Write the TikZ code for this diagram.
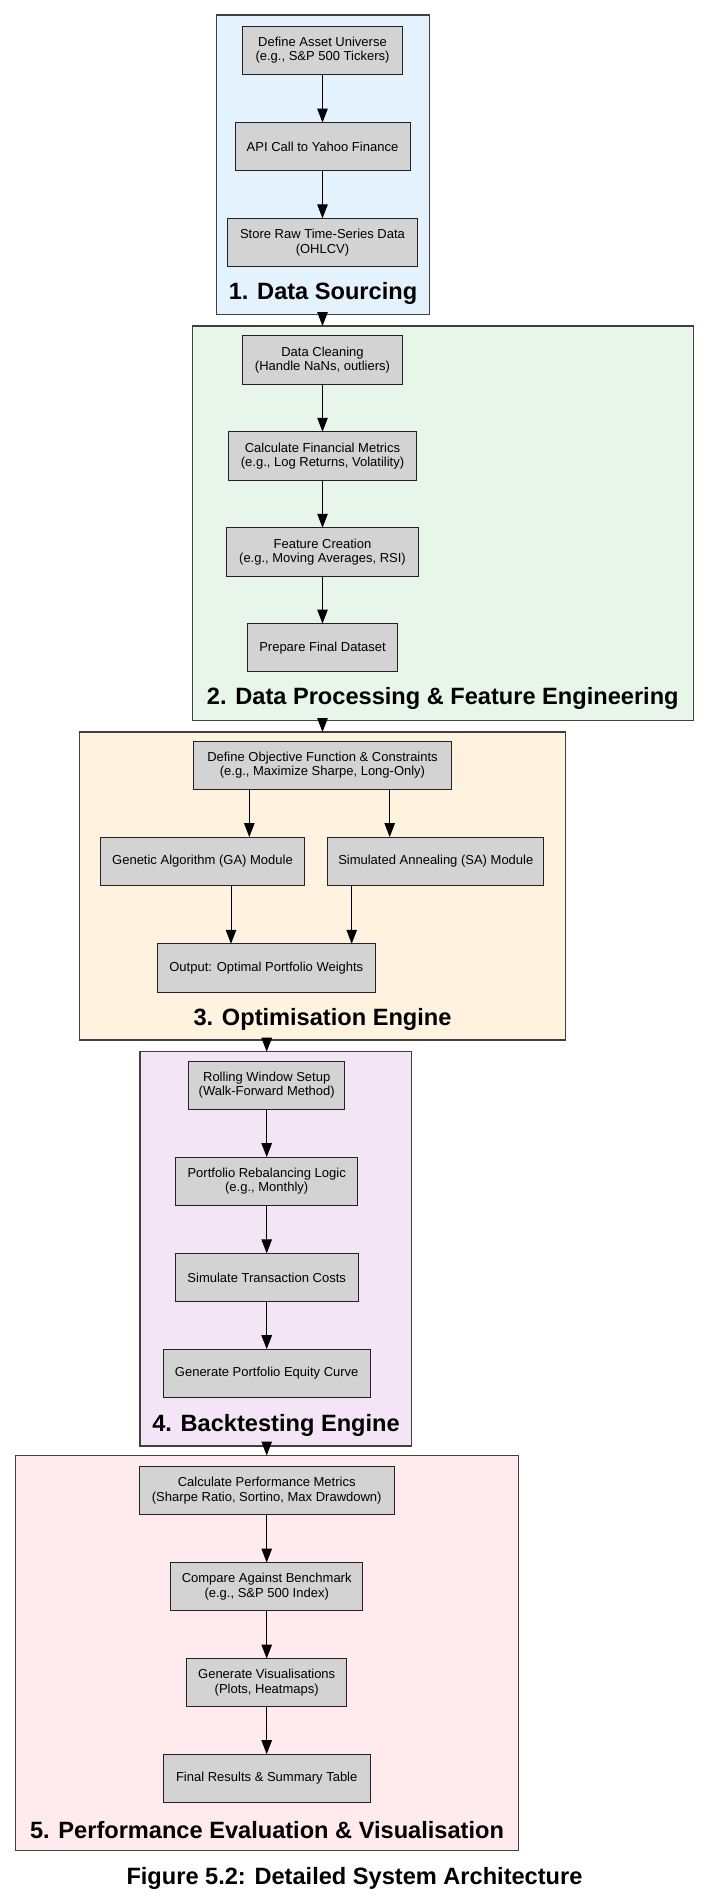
\documentclass[tikz,border=0pt]{standalone}
\usepackage{fontspec}
\setmainfont{Liberation Sans}
\usetikzlibrary{arrows.meta}
\definecolor{cA}{HTML}{E3F2FD}
\definecolor{cB}{HTML}{E8F5E9}
\definecolor{cC}{HTML}{FFF3E0}
\definecolor{cD}{HTML}{F3E5F5}
\definecolor{cE}{HTML}{FFEBEE}
\definecolor{nodegray}{HTML}{D3D3D3}
\definecolor{edgedark}{HTML}{222222}
\definecolor{clusterline}{HTML}{404040}
\tikzset{
  cluster/.style={draw=clusterline, line width=1.1pt, inner sep=0pt, outer sep=0pt},
  stepbox/.style={draw=edgedark, fill=nodegray, line width=1pt, inner sep=0pt, outer sep=0pt,
    minimum height=48.3pt, align=center, font=\fontsize{13}{14.5}\selectfont},
  ctitle/.style={inner sep=0pt, font=\fontsize{23.6}{26}\selectfont\bfseries},
  arr/.style={draw=black, line width=1pt, -{Triangle[length=14pt,width=10.5pt]}}
}
\begin{document}
\begin{tikzpicture}[x=1pt,y=-1pt]
\useasboundingbox (0,0) rectangle (709,1904);
\fill[white] (0,0) rectangle (709,1904);

% clusters
\node[cluster, fill=cA, minimum width=212.6pt, minimum height=299.3pt] (c1) at (323,164.65) {};
\node[cluster, fill=cB, minimum width=501pt, minimum height=394.7pt] (c2) at (442.8,523.35) {};
\node[cluster, fill=cC, minimum width=486.4pt, minimum height=308pt] (c3) at (322.5,886) {};
\node[cluster, fill=cD, minimum width=271.7pt, minimum height=394.3pt] (c4) at (275.85,1248.85) {};
\node[cluster, fill=cE, minimum width=502.6pt, minimum height=395.2pt] (c5) at (267.1,1653.1) {};

% titles
\node[ctitle] (t1) at (323,293.5) {1. Data Sourcing};
\node[ctitle] (t2) at (442.8,698) {2. Data Processing \& Feature Engineering};
\node[ctitle] (t3) at (322.5,1019) {3. Optimisation Engine};
\node[ctitle] (t4) at (276,1425) {4. Backtesting Engine};
\node[ctitle] (t5) at (267,1830) {5. Performance Evaluation \& Visualisation};
\node[ctitle] (cap) at (354.5,1878.3) {Figure 5.2: Detailed System Architecture};

% cluster 1
\node[stepbox, minimum width=160pt] (n11) at (322.5,50.3) {Define Asset Universe\\(e.g., S\&P 500 Tickers)};
\node[stepbox, minimum width=175pt] (n12) at (322.5,146.7) {API Call to Yahoo Finance};
\node[stepbox, minimum width=190pt] (n13) at (322.5,242.5) {Store Raw Time-Series Data\\(OHLCV)};

% cluster 2
\node[stepbox, minimum width=159.6pt] (n21) at (322.5,359.9) {Data Cleaning\\(Handle NaNs, outliers)};
\node[stepbox, minimum width=188.4pt] (n22) at (322.5,455.9) {Calculate Financial Metrics\\(e.g., Log Returns, Volatility)};
\node[stepbox, minimum width=191.6pt] (n23) at (322.5,551.9) {Feature Creation\\(e.g., Moving Averages, RSI)};
\node[stepbox, minimum width=150pt] (n24) at (322.5,647.7) {Prepare Final Dataset};

% cluster 3
\node[stepbox, minimum width=257.6pt] (n31) at (322.5,765.2) {Define Objective Function \& Constraints\\(e.g., Maximize Sharpe, Long-Only)};
\node[stepbox, minimum width=203.6pt] (n32) at (202.5,861.2) {Genetic Algorithm (GA) Module};
\node[stepbox, minimum width=216.3pt] (n33) at (435.8,861.2) {Simulated Annealing (SA) Module};
\node[stepbox, minimum width=218pt] (n34) at (266.3,967.9) {Output: Optimal Portfolio Weights};

% cluster 4
\node[stepbox, minimum width=155.6pt] (n41) at (266.7,1085.2) {Rolling Window Setup\\(Walk-Forward Method)};
\node[stepbox, minimum width=182pt] (n42) at (266.7,1181.2) {Portfolio Rebalancing Logic\\(e.g., Monthly)};
\node[stepbox, minimum width=183.3pt] (n43) at (266.7,1277.5) {Simulate Transaction Costs};
\node[stepbox, minimum width=207.3pt] (n44) at (266.7,1373.3) {Generate Portfolio Equity Curve};

% cluster 5
\node[stepbox, minimum width=255.4pt] (n51) at (266.7,1490.7) {Calculate Performance Metrics\\(Sharpe Ratio, Sortino, Max Drawdown)};
\node[stepbox, minimum width=192.2pt] (n52) at (266.7,1586.7) {Compare Against Benchmark\\(e.g., S\&P 500 Index)};
\node[stepbox, minimum width=160.5pt] (n53) at (266.7,1682.7) {Generate Visualisations\\(Plots, Heatmaps)};
\node[stepbox, minimum width=207pt] (n54) at (266.7,1778.3) {Final Results \& Summary Table};

% edges within clusters
\draw[arr] (n11) -- (n12);
\draw[arr] (n12) -- (n13);
\draw[arr] (n21) -- (n22);
\draw[arr] (n22) -- (n23);
\draw[arr] (n23) -- (n24);
\draw[arr] ([xshift=-73.2pt]n31.south) -- ([xshift=46.8pt]n32.north);
\draw[arr] ([xshift=67.2pt]n31.south) -- ([xshift=-46.1pt]n33.north);
\draw[arr] ([xshift=28.5pt]n32.south) -- ([xshift=-35.3pt]n34.north);
\draw[arr] ([xshift=-84.1pt]n33.south) -- ([xshift=85.4pt]n34.north);
\draw[arr] (n41) -- (n42);
\draw[arr] (n42) -- (n43);
\draw[arr] (n43) -- (n44);
\draw[arr] (n51) -- (n52);
\draw[arr] (n52) -- (n53);
\draw[arr] (n53) -- (n54);

% edges between clusters
\draw[arr] (c1.south -| n13.south) -- (c2.north -| n13.south);
\draw[arr] (c2.south -| n24.south) -- (c3.north -| n24.south);
\draw[arr] (c3.south -| n41.north) -- (c4.north -| n41.north);
\draw[arr] (c4.south -| n51.north) -- (c5.north -| n51.north);
\end{tikzpicture}
\end{document}
